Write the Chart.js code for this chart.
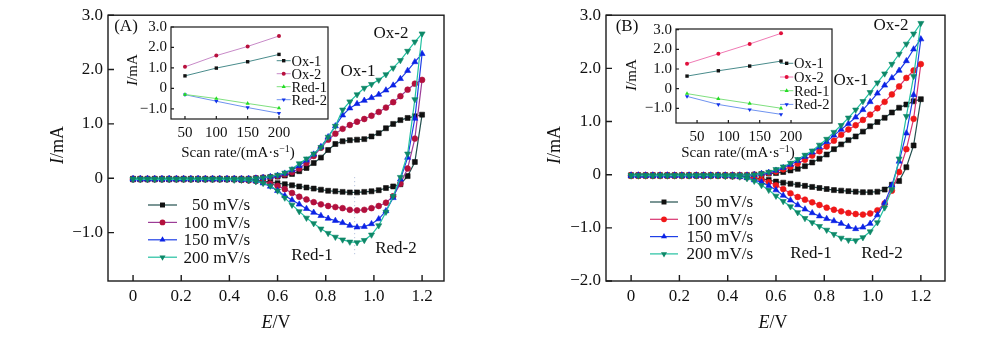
<!DOCTYPE html>
<html lang="pt-BR">
<head>
<meta charset="utf-8">
<title>Voltametria cíclica</title>
<script src="https://cdn.jsdelivr.net/npm/chart.js@4.4.1/dist/chart.umd.min.js"></script>
<style>
    body { margin: 0; background: #fff; }
    #painel { position: relative; width: 1000px; height: 337px; overflow: hidden;
              font-family: "Liberation Serif", "Times New Roman", serif; color: #111; }
    #painel canvas { position: absolute; }
    .rotulo { position: absolute; transform: translate(-50%, -50%); white-space: nowrap;
              font-size: 17px; line-height: 1; }
    .titulo { font-size: 18px; }
    .peq { font-size: 15px; }
    .vertical { transform: translate(-50%, -50%) rotate(-90deg); }
    sup { font-size: 10px; vertical-align: 5px; line-height: 0; }
</style>
</head>
<body>
<div id="painel">
    <canvas id="cvA" width="500" height="337" style="left:0;top:0"></canvas>
    <canvas id="cvB" width="500" height="337" style="left:500px;top:0"></canvas>
    <canvas id="insA" width="216" height="128" style="left:120px;top:14px"></canvas>
    <canvas id="insB" width="220" height="128" style="left:620px;top:16px"></canvas>

    <!-- painel A -->
    <div class="rotulo" style="left:126px;top:25px">(A)</div>
    <div class="rotulo" style="left:391px;top:32px">Ox-2</div>
    <div class="rotulo" style="left:358px;top:70px">Ox-1</div>
    <div class="rotulo" style="left:312px;top:254px">Red-1</div>
    <div class="rotulo" style="left:396px;top:247px">Red-2</div>
    <div class="rotulo titulo vertical" style="left:57px;top:145px"><i>I</i>/mA</div>
    <div class="rotulo titulo" style="left:276px;top:322px"><i>E</i>/V</div>
    <div class="rotulo peq vertical" style="left:132px;top:70px"><i>I</i>/mA</div>
    <div class="rotulo peq" style="left:238px;top:152px">Scan rate/(mA·s<sup>−1</sup>)</div>

    <!-- painel B -->
    <div class="rotulo" style="left:627px;top:25px">(B)</div>
    <div class="rotulo" style="left:891px;top:24px">Ox-2</div>
    <div class="rotulo" style="left:851px;top:79px">Ox-1</div>
    <div class="rotulo" style="left:811px;top:252px">Red-1</div>
    <div class="rotulo" style="left:882px;top:252px">Red-2</div>
    <div class="rotulo titulo vertical" style="left:554px;top:145px"><i>I</i>/mA</div>
    <div class="rotulo titulo" style="left:773px;top:322px"><i>E</i>/V</div>
    <div class="rotulo peq vertical" style="left:631px;top:75px"><i>I</i>/mA</div>
    <div class="rotulo peq" style="left:738px;top:152px">Scan rate/(mA·s<sup>−1</sup>)</div>
</div>

<script>
// Potencial (V) de cada ponto medido, varredura de 0 a 1,2 V
const potencial = [0, 0.03, 0.06, 0.09, 0.12, 0.15, 0.18, 0.21, 0.24, 0.27, 0.3, 0.33, 0.36, 0.39,
    0.42, 0.45, 0.48, 0.51, 0.54, 0.57, 0.6, 0.63, 0.66, 0.69, 0.72, 0.75, 0.78, 0.81, 0.84, 0.87,
    0.9, 0.93, 0.96, 0.99, 1.02, 1.05, 1.08, 1.11, 1.14, 1.17, 1.2];

const velocidades = ["50 mV/s", "100 mV/s", "150 mV/s", "200 mV/s"];

// Painel A - corrente (mA): ramo anódico (ida) e catódico (volta), no mesmo potencial
const a50Anod = [-0.01, -0.01, -0.01, -0.01, -0.01, -0.01, -0.01, -0.01, -0.01, -0.01, -0.01, -0.01, -0.01, -0.01, -0.01, -0.01, -0.01,
    0, 0.01, 0.02, 0.03, 0.05, 0.08, 0.13, 0.19, 0.28, 0.38, 0.52, 0.63, 0.68, 0.70, 0.71, 0.72, 0.77, 0.83, 0.92, 1.00, 1.07, 1.11, 1.14, 1.17];
const a50Cat = [-0.02, -0.02, -0.02, -0.02, -0.02, -0.02, -0.02, -0.02, -0.02, -0.02, -0.02, -0.02, -0.02, -0.02, -0.02,
    -0.03, -0.03, -0.04, -0.05, -0.07, -0.09, -0.11, -0.13, -0.15, -0.17, -0.19, -0.21, -0.23, -0.24, -0.25, -0.26, -0.26, -0.25, -0.24, -0.22, -0.18, -0.15, -0.11, 0.04, 0.30, 1.17];
const a100Anod = [-0.01, -0.01, -0.01, -0.01, -0.01, -0.01, -0.01, -0.01, -0.01, -0.01, -0.01, -0.01, -0.01, -0.01, -0.01, -0.01, -0.01,
    0, 0.01, 0.02, 0.04, 0.07, 0.11, 0.18, 0.28, 0.41, 0.56, 0.71, 0.82, 0.91, 0.98, 1.04, 1.09, 1.15, 1.22, 1.30, 1.40, 1.51, 1.63, 1.74, 1.81];
const a100Cat = [-0.02, -0.02, -0.02, -0.02, -0.02, -0.02, -0.02, -0.02, -0.02, -0.02, -0.02, -0.02, -0.02, -0.02, -0.02,
    -0.03, -0.04, -0.05, -0.07, -0.10, -0.14, -0.20, -0.27, -0.34, -0.39, -0.44, -0.48, -0.51, -0.53, -0.55, -0.58, -0.59, -0.58, -0.55, -0.51, -0.45, -0.33, -0.10, 0.18, 0.73, 1.81];
const a150Anod = [-0.01, -0.01, -0.01, -0.01, -0.01, -0.01, -0.01, -0.01, -0.01, -0.01, -0.01, -0.01, -0.01, -0.01, -0.01, -0.01, -0.01,
    0, 0.01, 0.03, 0.05, 0.09, 0.15, 0.23, 0.33, 0.44, 0.58, 0.76, 0.96, 1.16, 1.29, 1.37, 1.43, 1.48, 1.54, 1.62, 1.71, 1.83, 1.98, 2.14, 2.29];
const a150Cat = [-0.02, -0.02, -0.02, -0.02, -0.02, -0.02, -0.02, -0.02, -0.02, -0.02, -0.02, -0.02, -0.02, -0.02, -0.02,
    -0.03, -0.03, -0.05, -0.09, -0.15, -0.23, -0.32, -0.40, -0.48, -0.56, -0.63, -0.69, -0.74, -0.78, -0.82, -0.87, -0.90, -0.89, -0.84, -0.75, -0.60, -0.36, -0.02, 0.38, 1.10, 2.29];
const a200Anod = [-0.01, -0.01, -0.01, -0.01, -0.01, -0.01, -0.01, -0.01, -0.01, -0.01, -0.01, -0.01, -0.01, -0.01, -0.01, -0.01, -0.01,
    0, 0.01, 0.03, 0.06, 0.10, 0.17, 0.27, 0.36, 0.45, 0.57, 0.76, 0.96, 1.26, 1.41, 1.54, 1.66, 1.73, 1.81, 1.91, 2.03, 2.17, 2.34, 2.51, 2.66];
const a200Cat = [-0.02, -0.02, -0.02, -0.02, -0.02, -0.02, -0.02, -0.02, -0.02, -0.02, -0.02, -0.02, -0.02, -0.02,
    -0.03, -0.03, -0.04, -0.06, -0.09, -0.14, -0.23, -0.36, -0.49, -0.61, -0.73, -0.83, -0.93, -1.01, -1.08, -1.13, -1.17, -1.18, -1.14, -1.04, -0.87, -0.62, -0.33, 0.02, 0.45, 1.45, 2.66];

// Painel B
const b50Anod = [-0.01, -0.01, -0.01, -0.01, -0.01, -0.01, -0.01, -0.01, -0.01, -0.01, -0.01, -0.01, -0.01, -0.01, -0.01, -0.01, -0.01,
    0, 0.01, 0.02, 0.03, 0.05, 0.08, 0.11, 0.16, 0.23, 0.30, 0.38, 0.48, 0.57, 0.65, 0.72, 0.81, 0.91, 0.99, 1.07, 1.17, 1.26, 1.32, 1.38, 1.42];
const b50Cat = [-0.02, -0.02, -0.02, -0.02, -0.02, -0.02, -0.02, -0.02, -0.02, -0.02, -0.02, -0.02, -0.02, -0.02,
    -0.03, -0.03, -0.04, -0.06, -0.08, -0.10, -0.13, -0.15, -0.17, -0.19, -0.21, -0.23, -0.25, -0.27, -0.29, -0.30, -0.31, -0.32, -0.33, -0.33, -0.32, -0.28, -0.19, -0.12, 0.14, 0.55, 1.42];
const b100Anod = [-0.01, -0.01, -0.01, -0.01, -0.01, -0.01, -0.01, -0.01, -0.01, -0.01, -0.01, -0.01, -0.01, -0.01, -0.01, -0.01, -0.01,
    0, 0.01, 0.03, 0.06, 0.10, 0.15, 0.21, 0.28, 0.36, 0.44, 0.53, 0.64, 0.75, 0.85, 0.93, 1.03, 1.13, 1.25, 1.37, 1.51, 1.66, 1.82, 1.96, 2.08];
const b100Cat = [-0.02, -0.02, -0.02, -0.02, -0.02, -0.02, -0.02, -0.02, -0.02, -0.02, -0.02, -0.02, -0.02, -0.02,
    -0.03, -0.03, -0.05, -0.07, -0.10, -0.14, -0.20, -0.27, -0.35, -0.42, -0.47, -0.52, -0.57, -0.62, -0.66, -0.69, -0.72, -0.74, -0.75, -0.73, -0.67, -0.54, -0.30, 0.05, 0.48, 1.05, 2.08];
const b150Anod = [-0.01, -0.01, -0.01, -0.01, -0.01, -0.01, -0.01, -0.01, -0.01, -0.01, -0.01, -0.01, -0.01, -0.01, -0.01, -0.01, -0.01,
    0, 0.02, 0.04, 0.08, 0.13, 0.19, 0.26, 0.34, 0.42, 0.52, 0.62, 0.74, 0.85, 0.96, 1.08, 1.22, 1.37, 1.53, 1.68, 1.82, 1.96, 2.14, 2.36, 2.55];
const b150Cat = [-0.02, -0.02, -0.02, -0.02, -0.02, -0.02, -0.02, -0.02, -0.02, -0.02, -0.02, -0.02, -0.02, -0.02,
    -0.03, -0.04, -0.06, -0.10, -0.14, -0.21, -0.29, -0.39, -0.48, -0.57, -0.65, -0.72, -0.78, -0.83, -0.87, -0.92, -0.98, -1.02, -0.99, -0.92, -0.76, -0.53, -0.20, 0.25, 0.78, 1.50, 2.55];
const b200Anod = [-0.01, -0.01, -0.01, -0.01, -0.01, -0.01, -0.01, -0.01, -0.01, -0.01, -0.01, -0.01, -0.01, -0.01, -0.01, -0.01, -0.01,
    0, 0.02, 0.05, 0.10, 0.15, 0.22, 0.29, 0.37, 0.45, 0.56, 0.67, 0.80, 0.93, 1.07, 1.22, 1.38, 1.55, 1.73, 1.90, 2.08, 2.27, 2.46, 2.65, 2.85];
const b200Cat = [-0.02, -0.02, -0.02, -0.02, -0.02, -0.02, -0.02, -0.02, -0.02, -0.02, -0.02, -0.02, -0.02,
    -0.03, -0.03, -0.04, -0.07, -0.12, -0.20, -0.29, -0.40, -0.50, -0.60, -0.71, -0.82, -0.90, -0.97, -1.04, -1.12, -1.19, -1.23, -1.24, -1.18, -1.07, -0.90, -0.62, -0.28, 0.30, 1.10, 1.85, 2.85];

// Linha pontilhada de referência no pico catódico (painel A)
const refE = [0.92, 0.92];
const refI = [0.02, -1.45];

// Eixos principais
const ticksE = [0, 0.2, 0.4, 0.6, 0.8, 1.0, 1.2];
const rotulosE = ["0", "0.2", "0.4", "0.6", "0.8", "1.0", "1.2"];
const ticksIA = [-1, 0, 1, 2, 3];
const rotulosIA = ["−1.0", "0", "1.0", "2.0", "3.0"];
const ticksIB = [-2, -1, 0, 1, 2, 3];
const rotulosIB = ["−2.0", "−1.0", "0", "1.0", "2.0", "3.0"];

// Gráficos menores: corrente de pico x velocidade de varredura
const escala = [50, 100, 150, 200];
const rotulosEscala = ["50", "100", "150", "200"];
const ticksPico = [-1, 0, 1, 2, 3];
const rotulosPico = ["−1.0", "0", "1.0", "2.0", "3.0"];
const picos = ["Ox-1", "Ox-2", "Red-1", "Red-2"];
const picoA_ox1 = [0.61, 0.99, 1.30, 1.66];
const picoA_ox2 = [1.05, 1.60, 2.05, 2.56];
const picoA_red1 = [-0.30, -0.50, -0.74, -0.97];
const picoA_red2 = [-0.31, -0.63, -0.94, -1.22];
const picoB_ox1 = [0.64, 0.91, 1.15, 1.40];
const picoB_ox2 = [1.27, 1.77, 2.27, 2.81];
const picoB_red1 = [-0.25, -0.51, -0.75, -0.99];
const picoB_red2 = [-0.39, -0.80, -1.06, -1.30];

const FONTE = '"Liberation Serif", "Times New Roman", serif';

// Marcador desenhado na legenda (mesmo formato que o Chart.js usa nos pontos)
function marcador(ctx, ds, x, y) {
    const r = ds.pointRadius;
    ctx.fillStyle = ds.pointBackgroundColor;
    ctx.beginPath();
    if (ds.pointStyle === "rect") {
        const s = r * Math.SQRT1_2;
        ctx.rect(x - s, y - s, 2 * s, 2 * s);
    } else if (ds.pointStyle === "circle") {
        ctx.arc(x, y, r, 0, Math.PI * 2);
    } else {
        const d = ds.pointRotation ? -1 : 1;
        ctx.moveTo(x, y - d * r);
        ctx.lineTo(x - r * 0.866, y + d * r * 0.5);
        ctx.lineTo(x + r * 0.866, y + d * r * 0.5);
        ctx.closePath();
    }
    ctx.fill();
}

// Moldura fechada, tiques para dentro e legenda com linha + marcador
const moldura = {
    id: "moldura",
    beforeDatasetsDraw(chart, args, op) {
        if (!op.fundo) return;
        const a = chart.chartArea;
        chart.ctx.save();
        chart.ctx.fillStyle = "#fff";
        chart.ctx.fillRect(a.left, a.top, a.width, a.height);
        chart.ctx.restore();
    },
    afterDraw(chart, args, op) {
        const { ctx, chartArea: a } = chart;
        const x = chart.scales.xr || chart.scales.x;
        const y = chart.scales.y;
        ctx.save();
        ctx.strokeStyle = "#1a1a1a";
        ctx.lineWidth = op.espessura;
        ctx.strokeRect(a.left, a.top, a.width, a.height);
        ctx.beginPath();
        x.ticks.forEach(t => {
            const p = x.getPixelForValue(t.value);
            ctx.moveTo(p, a.bottom);
            ctx.lineTo(p, a.bottom - op.tique);
        });
        y.ticks.forEach(t => {
            const p = y.getPixelForValue(t.value);
            ctx.moveTo(a.left, p);
            ctx.lineTo(a.left + op.tique, p);
        });
        ctx.stroke();

        const leg = op.legenda;
        if (leg) {
            ctx.font = leg.fonte + "px " + FONTE;
            ctx.textBaseline = "middle";
            ctx.textAlign = leg.alinhar;
            let yy = leg.y0;
            chart.data.datasets.forEach(ds => {
                if (!ds.label) return;
                ctx.strokeStyle = ds.borderColor;
                ctx.lineWidth = ds.borderWidth;
                ctx.beginPath();
                ctx.moveTo(leg.x0, yy);
                ctx.lineTo(leg.x1, yy);
                ctx.stroke();
                marcador(ctx, ds, (leg.x0 + leg.x1) / 2, yy);
                ctx.fillStyle = "#111";
                ctx.fillText(ds.label, leg.xTexto, yy + 1);
                yy += leg.passo;
            });
        }
        ctx.restore();
    }
};

function eixo(min, max, valores, rotulos, tamanho, horizontal, fonte, pad) {
    return {
        type: "linear", min, max,
        grid: { display: false, drawTicks: false },
        border: { display: false },
        afterBuildTicks: s => { s.ticks = valores.map(v => ({ value: v })); },
        afterFit: s => { if (horizontal) s.height = tamanho; else s.width = tamanho; },
        ticks: {
            autoSkip: false, maxRotation: 0, padding: pad, color: "#111",
            font: { family: FONTE, size: fonte },
            callback: (v, i) => rotulos[i]
        }
    };
}

// Junta ida e volta num ciclo fechado (volta de 1,2 V até 0 V)
function ciclo(anod, cat) {
    const pts = potencial.map((e, i) => ({ x: e, y: anod[i] }));
    for (let i = potencial.length - 2; i >= 0; i--) pts.push({ x: potencial[i], y: cat[i] });
    return pts;
}

function serie(xs, ys) {
    return xs.map((v, i) => ({ x: v, y: ys[i] }));
}

const estilos = [
    { ponto: "rect", rot: 0, raio: 3.5 },
    { ponto: "circle", rot: 0, raio: 2.9 },
    { ponto: "triangle", rot: 0, raio: 3.5 },
    { ponto: "triangle", rot: 180, raio: 3.5 }
];

function curvas(ciclos, coresPonto, coresLinha) {
    return ciclos.map((dados, i) => ({
        label: velocidades[i],
        data: dados,
        showLine: true,
        borderColor: coresLinha[i],
        borderWidth: 1.2,
        pointStyle: estilos[i].ponto,
        pointRotation: estilos[i].rot,
        pointRadius: estilos[i].raio,
        pointBackgroundColor: coresPonto[i],
        pointBorderColor: coresPonto[i],
        pointBorderWidth: 0.6,
        order: 4 - i
    }));
}

function graficoPrincipal(id, c) {
    return new Chart(document.getElementById(id), {
        type: "scatter",
        data: { datasets: c.datasets },
        options: {
            responsive: false, animation: false, events: [],
            layout: { autoPadding: false, padding: { left: 0, top: 12, right: c.dir, bottom: 0 } },
            scales: {
                x: eixo(c.xMin, c.xMax, ticksE, rotulosE, 56, true, 17, 5),
                y: eixo(c.yMin, c.yMax, c.ticksI, c.rotulosI, c.esq, false, 17, 5)
            },
            plugins: {
                legend: { display: false }, tooltip: { enabled: false },
                moldura: { espessura: 1.4, tique: 6, legenda: c.legenda }
            }
        },
        plugins: [moldura]
    });
}

function graficoPico(id, c) {
    const formas = [["rect", 0], ["circle", 0], ["triangle", 0], ["triangle", 180]];
    const datasets = c.series.map((ys, i) => ({
        label: picos[i],
        data: serie(escala, ys),
        showLine: true,
        borderColor: c.coresLinha[i],
        borderWidth: 1,
        pointStyle: formas[i][0],
        pointRotation: formas[i][1],
        pointRadius: i === 1 ? 2 : 2.4,
        pointBackgroundColor: c.coresPonto[i],
        pointBorderColor: c.coresPonto[i],
        pointBorderWidth: 0
    }));

    // eixo dos dados fica oculto; os rótulos vão num eixo irmão com o mesmo passo,
    // deslocado em "desloc" unidades (no painel B os números ficam à direita dos pontos)
    const x = eixo(c.xMin, c.xMax, escala, rotulosEscala, 0, true, 15, 5);
    x.display = false;
    const xr = eixo(c.xMin - c.desloc, c.xMax - c.desloc, escala, rotulosEscala, c.alt, true, 15, 5);
    xr.axis = "x";
    xr.position = "bottom";

    return new Chart(document.getElementById(id), {
        type: "scatter",
        data: { datasets },
        options: {
            responsive: false, animation: false, events: [],
            layout: { autoPadding: false, padding: { left: 0, top: c.topo, right: c.dir, bottom: 0 } },
            scales: {
                x, xr,
                y: eixo(c.yMin, c.yMax, ticksPico, rotulosPico, c.esq, false, 15, 4)
            },
            plugins: {
                legend: { display: false }, tooltip: { enabled: false },
                moldura: { fundo: true, espessura: 1.2, tique: 3, legenda: c.legenda }
            }
        },
        plugins: [moldura]
    });
}

document.addEventListener("DOMContentLoaded", () => {
    // 1. Painel A
    const dsA = curvas(
        [ciclo(a50Anod, a50Cat), ciclo(a100Anod, a100Cat), ciclo(a150Anod, a150Cat), ciclo(a200Anod, a200Cat)],
        ["#111111", "#b3103c", "#0b22e6", "#0e8868"],
        ["#24504f", "#9c3c96", "#1f3fe6", "#22c0a0"]
    );
    dsA.push({
        data: serie(refE, refI), showLine: true, borderColor: "#a9b8d6", borderWidth: 1,
        borderDash: [1, 3], pointRadius: 0, order: 5
    });
    graficoPrincipal("cvA", {
        datasets: dsA, xMin: -0.104, xMax: 1.291, yMin: -1.89, yMax: 3.0,
        ticksI: ticksIA, rotulosI: rotulosIA, esq: 108, dir: 56,
        legenda: { x0: 148, x1: 177, xTexto: 250, y0: 205, passo: 17.4, alinhar: "right", fonte: 17 }
    });

    // 2. Painel B
    const dsB = curvas(
        [ciclo(b50Anod, b50Cat), ciclo(b100Anod, b100Cat), ciclo(b150Anod, b150Cat), ciclo(b200Anod, b200Cat)],
        ["#111111", "#f01818", "#0b22e6", "#0e8868"],
        ["#24504f", "#d8336f", "#1f3fe6", "#22c0a0"]
    );
    graficoPrincipal("cvB", {
        datasets: dsB, xMin: -0.104, xMax: 1.30, yMin: -2.0, yMax: 3.0,
        ticksI: ticksIB, rotulosI: rotulosIB, esq: 106, dir: 55,
        legenda: { x0: 150, x1: 178, xTexto: 253, y0: 202, passo: 17.3, alinhar: "right", fonte: 17 }
    });

    // 3. Correntes de pico
    graficoPico("insA", {
        series: [picoA_ox1, picoA_ox2, picoA_red1, picoA_red2],
        coresPonto: ["#111111", "#b8103c", "#22dd22", "#1030e8"],
        coresLinha: ["#4a8c8c", "#c88ac8", "#7fe07f", "#6f93f0"],
        xMin: 27.7, xMax: 278.2, yMin: -1.5, yMax: 3.0,
        topo: 9, dir: 8, alt: 23, esq: 51, desloc: 0,
        legenda: { x0: 156.7, x1: 170.7, xTexto: 171.5, y0: 46.7, passo: 13, alinhar: "left", fonte: 14.5 }
    });
    graficoPico("insB", {
        series: [picoB_ox1, picoB_ox2, picoB_red1, picoB_red2],
        coresPonto: ["#111111", "#e0103c", "#22dd22", "#1030e8"],
        coresLinha: ["#4a8c8c", "#f07ab4", "#7fe07f", "#6f93f0"],
        xMin: 32.4, xMax: 281.4, yMin: -1.74, yMax: 3.03,
        topo: 10, dir: 8, alt: 21, esq: 56, desloc: 16,
        legenda: { x0: 160, x1: 173.3, xTexto: 174, y0: 47.3, passo: 13.7, alinhar: "left", fonte: 14.5 }
    });
});
</script>
</body>
</html>
